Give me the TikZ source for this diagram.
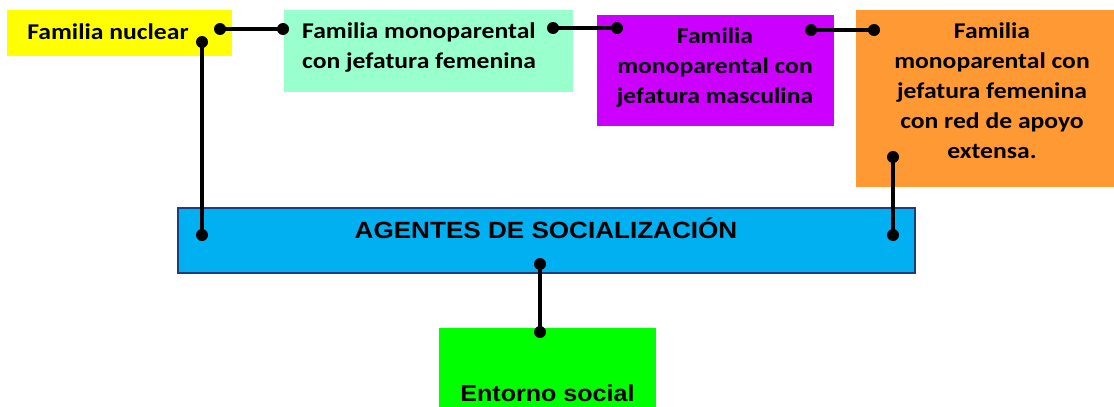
\documentclass[tikz,border=0pt]{standalone}
\usepackage{fontspec}
\newfontfamily\calb{Carlito}[FakeStretch=1.14]
\newfontfamily\arib{Liberation Sans}[FakeStretch=1.09]
\newfontfamily\aribw{Liberation Sans}[FakeStretch=1.11]
\definecolor{cyellow}{HTML}{FFFF00}
\definecolor{cmint}{HTML}{99FFCC}
\definecolor{cpurple}{HTML}{CC00FF}
\definecolor{corange}{HTML}{FF9933}
\definecolor{cblue}{HTML}{00B0F0}
\definecolor{cnavy}{HTML}{1F3D7A}
\definecolor{cgreen}{HTML}{00FF00}
\tikzset{
  box/.style={rectangle, draw=none, inner sep=0pt, outer sep=0pt},
  ctext/.style={font={\calb\bfseries\fontsize{22.5}{30}\selectfont}, inner sep=0pt, align=center},
  atext/.style={font={\arib\bfseries\fontsize{23}{28}\selectfont}, inner sep=0pt},
  link/.style={line width=4pt, black},
  dotc/.style={fill=black}
}
\begin{document}
\begin{tikzpicture}[x=1pt,y=-1pt]
\useasboundingbox (0,0) rectangle (1114,407);
% boxes
\node[box,fill=cyellow,minimum width=225pt,minimum height=46pt] (nuclear) at (119.5,33) {};
\node[box,fill=cmint,minimum width=289pt,minimum height=82pt] (mono) at (428.5,51) {};
\node[box,fill=cpurple,minimum width=237pt,minimum height=111pt] (masc) at (715.5,70.5) {};
\node[box,fill=corange,minimum width=258pt,minimum height=177pt] (red) at (985,98.5) {};
\node[box,fill=cblue,draw=cnavy,line width=2pt,minimum width=737pt,minimum height=65pt] (agentes) at (546,240) {};
\node[box,fill=cgreen,minimum width=217pt,minimum height=79pt] (entorno) at (547.5,367.5) {};
% texts
\node[ctext,anchor=base] (nuclearT) at (108,39) {Familia nuclear};
\node[ctext,anchor=base west,align=left] (monoT) at (302,68) {Familia monoparental\\con jefatura femenina};
\node[ctext,anchor=base] (mascT) at (715,103) {Familia\\monoparental con\\jefatura masculina};
\node[ctext,anchor=base] (redT) at (992,158) {Familia\\monoparental con\\jefatura femenina\\con red de apoyo\\extensa.};
\node[atext,font={\aribw\bfseries\fontsize{23.5}{28}\selectfont},anchor=base] (agentesT) at (546,238) {AGENTES DE SOCIALIZACIÓN};
\node[atext,anchor=base] (entornoT) at (547.5,401) {Entorno social};
% connector end points
\coordinate (p1) at (220,29);
\coordinate (p2) at (283,29);
\coordinate (p3) at (202,42);
\coordinate (p4) at (202,235);
\coordinate (p5) at (553,28);
\coordinate (p6) at (617,28);
\coordinate (p7) at (811,30);
\coordinate (p8) at (874,30);
\coordinate (p9) at (893,157);
\coordinate (p10) at (893,235);
\coordinate (p11) at (540,264);
\coordinate (p12) at (540,332);
\draw[link] (p1) -- (p2);
\draw[link] (p3) -- (p4);
\draw[link] (p5) -- (p6);
\draw[link] (p7) -- (p8);
\draw[link] (p9) -- (p10);
\draw[link] (p11) -- (p12);
\foreach \p in {p1,p2,p3,p4,p5,p6,p7,p8,p9,p10,p11,p12}
  \fill[dotc] (\p) circle (6pt);
\end{tikzpicture}
\end{document}
